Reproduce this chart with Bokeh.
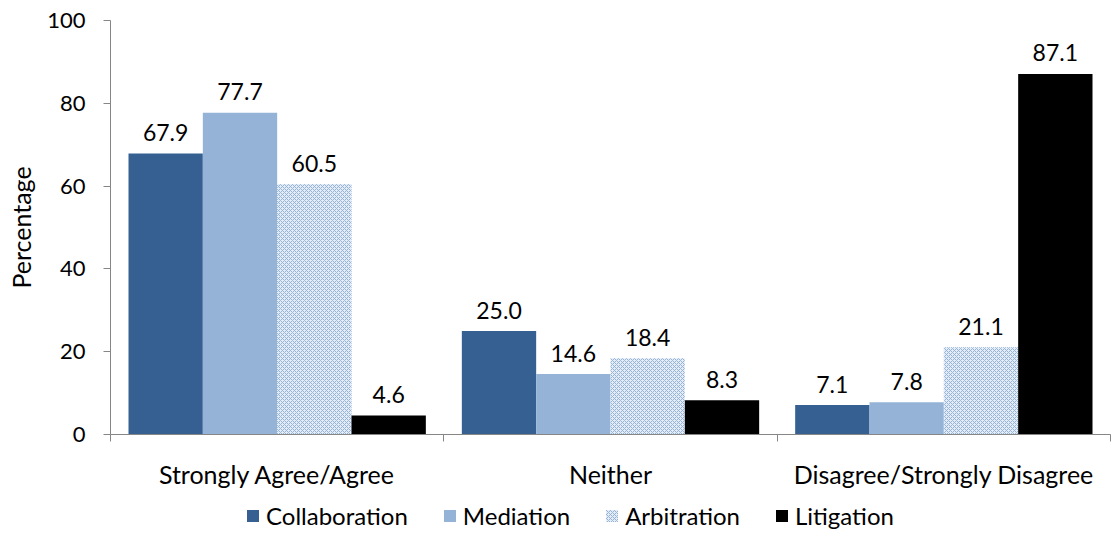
from bokeh.plotting import figure
from bokeh.models import ColumnDataSource, Range1d, FixedTicker, Legend, LegendItem
from bokeh.layouts import column
from bokeh.core.properties import value
from bokeh.embed import file_html
from bokeh.resources import INLINE

categories = ["Strongly Agree/Agree", "Neither", "Disagree/Strongly Disagree"]
series = ["Collaboration", "Mediation", "Arbitration", "Litigation"]
collaboration = [67.9, 25.0, 7.1]
mediation = [77.7, 14.6, 7.8]
arbitration = [60.5, 18.4, 21.1]
litigation = [4.6, 8.3, 87.1]
y_ticks = [0, 20, 40, 60, 80, 100]

FONT = "Lato"
colors = ["#376092", "#95b3d7", "#ffffff", "#000000"]
values = [collaboration, mediation, arbitration, litigation]
HATCH = dict(fill_color="#e4ecf6", hatch_pattern="diagonal_cross", hatch_color="#95b3d7",
             hatch_scale=4, hatch_weight=1)

p = figure(width=1111, height=502, output_backend="svg", toolbar_location=None,
           x_range=Range1d(0, 3), y_range=Range1d(0, 100),
           min_border_left=110, min_border_right=1, min_border_top=20, min_border_bottom=68)
p.outline_line_color = None
p.xgrid.visible = False
p.ygrid.visible = False

bw = 0.223
offsets = [-1.5 * bw, -0.5 * bw, 0.5 * bw, 1.5 * bw]
for i, (name, vals, col) in enumerate(zip(series, values, colors)):
    xs = [k + 0.5 + offsets[i] for k in range(len(categories))]
    src = ColumnDataSource(dict(x=xs, top=vals, lab=["%.1f" % v for v in vals]))
    if name == "Arbitration":
        p.vbar(x="x", top="top", width=bw, source=src, line_color=None, **HATCH)
    else:
        p.vbar(x="x", top="top", width=bw, source=src, fill_color=col, line_color=None)
    p.text(x="x", y="top", text="lab", source=src, text_align="center", text_baseline="alphabetic",
           y_offset=-21, text_font=value(FONT), text_font_size="23px", text_color="#000000")

ax = p.xaxis[0]
ax.ticker = FixedTicker(ticks=[0.5, 1.5, 2.5], minor_ticks=[0, 1, 2, 3])
ax.major_label_overrides = {0.5: categories[0], 1.5: categories[1], 2.5: categories[2]}
ax.major_tick_line_color = None
ax.minor_tick_line_color = "#868686"
ax.minor_tick_out = 7
ax.minor_tick_in = 0
ax.axis_line_color = "#868686"
ax.major_label_text_font = FONT
ax.major_label_text_font_size = "25px"
ax.major_label_text_color = "#000000"
ax.major_label_standoff = 17

ay = p.yaxis[0]
ay.ticker = FixedTicker(ticks=y_ticks)
ay.minor_tick_line_color = None
ay.major_tick_line_color = "#868686"
ay.major_tick_out = 7
ay.major_tick_in = 0
ay.axis_line_color = "#868686"
ay.major_label_text_font = FONT
ay.major_label_text_font_size = "22px"
ay.major_label_text_color = "#000000"
ay.major_label_standoff = 18
ay.axis_label = "Percentage"
ay.axis_label_text_font = FONT
ay.axis_label_text_font_size = "25px"
ay.axis_label_text_font_style = "normal"
ay.axis_label_text_color = "#000000"
ay.axis_label_standoff = 8

# legend strip below the chart (zero-height dummy bars only carry the legend styles)
lf = figure(width=1111, height=31, output_backend="svg", toolbar_location=None,
            x_range=Range1d(0, 1), y_range=Range1d(0, 1),
            x_axis_type=None, y_axis_type=None, min_border=0)
lf.outline_line_color = None
lf.xgrid.visible = False
lf.ygrid.visible = False
items = []
for name, col in zip(series, colors):
    if name == "Arbitration":
        r = lf.vbar(x=[0.5], top=[0], bottom=[0], width=0.1, line_color=None, **HATCH)
    else:
        r = lf.vbar(x=[0.5], top=[0], bottom=[0], width=0.1, fill_color=col, line_color=None)
    items.append(LegendItem(label=name, renderers=[r]))
legend = Legend(items=items, orientation="horizontal", location=(135, 3),
                label_text_font=FONT, label_text_font_size="24px", label_text_color="#000000",
                glyph_width=15, glyph_height=15, label_standoff=6, spacing=34,
                border_line_color=None, background_fill_alpha=0, margin=0, padding=0,
                label_height=24)
lf.add_layout(legend, "center")

layout = column(p, lf, spacing=0)
open("out.html", "w").write(file_html(layout, INLINE))
